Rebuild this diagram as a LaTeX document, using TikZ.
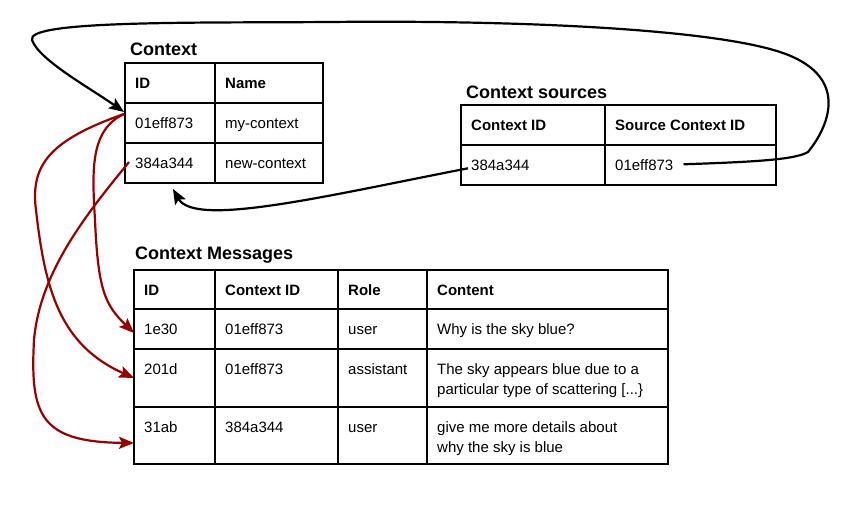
\documentclass[tikz,border=0pt]{standalone}
\usepackage{fontspec}
\setmainfont{Liberation Sans}
\usetikzlibrary{arrows.meta,calc}
\definecolor{linkred}{RGB}{153,0,0}
\begin{document}
\begin{tikzpicture}[x=1pt,y=-1pt,
  cell/.style={draw, rectangle, line width=2pt, inner sep=0pt, outer sep=0pt, anchor=north west},
  celltext/.style={anchor=base west, inner sep=0pt, font=\fontsize{15}{20}\selectfont},
  headtext/.style={anchor=base west, inner sep=0pt, font=\fontsize{15}{20}\selectfont\bfseries},
  tabtitle/.style={anchor=base west, inner sep=0pt, font=\fontsize{18}{22}\selectfont\bfseries},
  conn/.style={line width=2.2pt, -{Stealth[length=15pt,width=12pt,inset=3pt]}},
  redconn/.style={conn, draw=linkred}
]
\useasboundingbox (0,0) rectangle (866,518);

% ---------- Context table ----------
\node[tabtitle] (ctx-title) at (130,56) {Context};
\foreach \r/\y in {0/63,1/103,2/143}{
  \foreach \c/\x/\w in {0/125/90,1/215/108}{
    \node[cell, minimum width=\w pt, minimum height=40pt] (ctx-\r-\c) at (\x,\y) {};
  }
}
\node[headtext] (ctx-t-0-0) at (135,88.3) {ID};
\node[headtext] (ctx-t-0-1) at (225,88.3) {Name};
\node[celltext] (ctx-t-1-0) at (135,128.3) {01eff873};
\node[celltext] (ctx-t-1-1) at (225,128.3) {my-context};
\node[celltext] (ctx-t-2-0) at (135,168.3) {384a344};
\node[celltext] (ctx-t-2-1) at (225,168.3) {new-context};

% ---------- Context sources table ----------
\node[tabtitle] (src-title) at (466,98.3) {Context sources};
\foreach \r/\y in {0/105,1/145}{
  \foreach \c/\x/\w in {0/461/144,1/605/171}{
    \node[cell, minimum width=\w pt, minimum height=40pt] (src-\r-\c) at (\x,\y) {};
  }
}
\node[headtext] (src-t-0-0) at (471,130.3) {Context ID};
\node[headtext] (src-t-0-1) at (615,130.3) {Source Context ID};
\node[celltext] (src-t-1-0) at (471,170.3) {384a344};
\node[celltext] (src-t-1-1) at (615,170.3) {01eff873};

% ---------- Context Messages table ----------
\node[tabtitle] (msg-title) at (135,260) {Context Messages};
\foreach \r/\y/\h in {0/270/39,1/309/40,2/349/58,3/407/57}{
  \foreach \c/\x/\w in {0/134/81,1/215/123,2/338/89,3/427/241}{
    \node[cell, minimum width=\w pt, minimum height=\h pt] (msg-\r-\c) at (\x,\y) {};
  }
}
\node[headtext] (msg-t-0-0) at (144,295.3) {ID};
\node[headtext] (msg-t-0-1) at (225,295.3) {Context ID};
\node[headtext] (msg-t-0-2) at (348,295.3) {Role};
\node[headtext] (msg-t-0-3) at (437,295.3) {Content};

\node[celltext] (msg-t-1-0) at (144,334.3) {1e30};
\node[celltext] (msg-t-1-1) at (225,334.3) {01eff873};
\node[celltext] (msg-t-1-2) at (348,334.3) {user};
\node[celltext] (msg-t-1-3) at (437,334.3) {Why is the sky blue?};

\node[celltext] (msg-t-2-0) at (144,374.3) {201d};
\node[celltext] (msg-t-2-1) at (225,374.3) {01eff873};
\node[celltext] (msg-t-2-2) at (348,374.3) {assistant};
\node[celltext] (msg-t-2-3a) at (437,374.3) {The sky appears blue due to a};
\node[celltext] (msg-t-2-3b) at (437,394.3) {particular type of scattering [...\}};

\node[celltext] (msg-t-3-0) at (144,432.3) {31ab};
\node[celltext] (msg-t-3-1) at (225,432.3) {384a344};
\node[celltext] (msg-t-3-2) at (348,432.3) {user};
\node[celltext] (msg-t-3-3a) at (437,432.3) {give me more details about};
\node[celltext] (msg-t-3-3b) at (437,452.3) {why the sky is blue};

% ---------- connectors ----------
% source context id -> context
\draw[conn] ($(src-t-1-1.base east)+(10,-6)$)
  .. controls (750,162) and (795,160) .. (808,152)
  .. controls (830,125) and (850,75) .. (780,52)
  .. controls (710,29) and (520,20) .. (330,22)
  .. controls (200,23) and (25,20) .. (32,40)
  .. controls (39,60) and (90,88) .. ($(ctx-1-0.north west)+(-1,9)$);
% context id -> context
\draw[conn] ($(src-t-1-0.base west)+(-3,-2)$)
  .. controls (330,195) and (195,228) .. ($(ctx-2-0.south west)+(48,6)$);

% red links to messages
\draw[redconn] ($(ctx-1-0.north west)+(-1,11)$)
  .. controls (90,130) and (92,170) .. (95,220)
  .. controls (98,290) and (105,305) .. ($(msg-1-0.north west)+(0,24)$);
\draw[redconn] ($(ctx-1-0.north west)+(-1,11)$)
  .. controls (50,140) and (30,165) .. (36,210)
  .. controls (45,290) and (60,345) .. ($(msg-2-0.north west)+(0,29)$);
\draw[redconn] ($(ctx-2-0.north west)+(4,19)$)
  .. controls (90,210) and (40,270) .. (34,340)
  .. controls (30,415) and (40,442) .. ($(msg-3-0.north west)+(0,36)$);
\end{tikzpicture}
\end{document}
